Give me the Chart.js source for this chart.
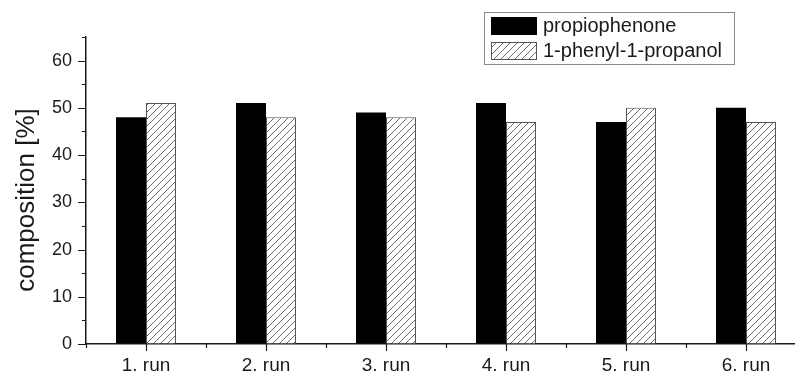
<!DOCTYPE html>
<html>
<head>
<meta charset="utf-8">
<title>composition</title>
<script src="https://cdn.jsdelivr.net/npm/chart.js@4"></script>
<style>
  html, body { margin: 0; padding: 0; background: #fff; overflow: hidden; }
  #wrap { width: 795px; height: 374px; overflow: hidden; }
  #wrap canvas { display: block; }
</style>
</head>
<body>
<div id="wrap">
  <canvas id="compChart" width="815" height="374"></canvas>
</div>
<script>
/* composition of the reaction mixture over six runs */

const runs = ['1. run', '2. run', '3. run', '4. run', '5. run', '6. run'];
const ketone = [48, 51, 49, 51, 47, 50];     // propiophenone
const alcohol = [51, 48, 48, 47, 50, 47];    // 1-phenyl-1-propanol
const seriesNames = ['propiophenone', '1-phenyl-1-propanol'];
const yMax = 65;
const yStep = 5;

const FONT = "'Liberation Sans', Arial, sans-serif";
const INK = '#1a1a1a';

// diagonal hatching for the second series
function makeHatch() {
    const size = 7;
    const c = document.createElement('canvas');
    c.width = size;
    c.height = size;
    const g = c.getContext('2d');
    g.fillStyle = '#fff';
    g.fillRect(0, 0, size, size);
    g.strokeStyle = '#6a6a6a';
    g.lineWidth = 1;
    g.beginPath();
    g.moveTo(-1, size + 1);
    g.lineTo(size + 1, -1);
    g.moveTo(-1, 1);
    g.lineTo(1, -1);
    g.moveTo(size - 1, size + 1);
    g.lineTo(size + 1, size - 1);
    g.stroke();
    return g.createPattern(c, 'repeat');
}
const hatch = makeHatch();

// outward tick marks, major and minor, on both axes
const axisTicks = {
    id: 'axisTicks',
    afterDraw(chart) {
        const ctx = chart.ctx;
        const x = chart.scales.x, y = chart.scales.y;
        ctx.save();
        ctx.strokeStyle = INK;
        ctx.lineWidth = 1.2;
        ctx.beginPath();
        for (let v = 0; v <= yMax; v += yStep) {
            const py = Math.round(y.getPixelForValue(v)) + 0.5;
            const len = v % 10 === 0 ? 8 : 4;
            ctx.moveTo(x.left - len, py);
            ctx.lineTo(x.left, py);
        }
        for (let i = 0; i < runs.length; i++) {
            const px = Math.round(x.getPixelForValue(i)) + 0.5;
            ctx.moveTo(px, y.bottom);
            ctx.lineTo(px, y.bottom + 7);
        }
        for (let i = 0; i <= runs.length; i++) {
            const px = Math.round(x.getPixelForValue(i - 0.5)) + 0.5;
            ctx.moveTo(px, y.bottom);
            ctx.lineTo(px, y.bottom + 4);
        }
        ctx.stroke();

        // axis title
        ctx.fillStyle = INK;
        ctx.font = '26px ' + FONT;
        ctx.textAlign = 'center';
        ctx.textBaseline = 'middle';
        ctx.translate(27, 200);
        ctx.rotate(-Math.PI / 2);
        ctx.fillText('composition [%]', 0, 0);
        ctx.restore();
    }
};

// boxed legend in the upper right
const boxLegend = {
    id: 'boxLegend',
    afterDraw(chart) {
        const ctx = chart.ctx;
        const bx = 484, by = 12, bw = 250, bh = 52;
        ctx.save();
        ctx.fillStyle = '#fff';
        ctx.fillRect(bx, by, bw, bh);
        ctx.strokeStyle = '#8a8a8a';
        ctx.lineWidth = 1;
        ctx.strokeRect(bx + 0.5, by + 0.5, bw, bh);
        ctx.font = '20px ' + FONT;
        ctx.textBaseline = 'middle';
        chart.data.datasets.forEach((ds, i) => {
            const sy = by + 5 + i * 25;
            ctx.fillStyle = ds.backgroundColor;
            ctx.fillRect(bx + 7, sy, 46, 18);
            ctx.strokeStyle = ds.borderColor;
            ctx.strokeRect(bx + 7.5, sy + 0.5, 45, 17);
            ctx.fillStyle = INK;
            ctx.fillText(ds.label, bx + 59, sy + 9);
        });
        ctx.restore();
    }
};

new Chart(document.getElementById('compChart').getContext('2d'), {
    type: 'bar',
    data: {
        labels: runs,
        datasets: [{
            label: seriesNames[0],
            data: ketone,
            backgroundColor: '#000',
            borderColor: '#000',
            borderWidth: 0
        }, {
            label: seriesNames[1],
            data: alcohol,
            backgroundColor: hatch,
            borderColor: '#555',
            borderWidth: 1
        }]
    },
    options: {
        responsive: false,
        animation: false,
        layout: { padding: { top: 37, right: 9, left: 0, bottom: 0 } },
        datasets: {
            bar: { categoryPercentage: 0.5, barPercentage: 1.0 }
        },
        plugins: {
            legend: { display: false },
            tooltip: { enabled: false }
        },
        scales: {
            x: {
                grid: { display: true, drawOnChartArea: false, drawTicks: false, color: 'transparent' },
                border: { display: true, color: INK, width: 1.5 },
                ticks: { color: INK, font: { family: FONT, size: 19 }, padding: 10, maxRotation: 0 },
                afterFit(scale) { scale.height = 30; }
            },
            y: {
                min: 0,
                max: yMax,
                grid: { display: true, drawOnChartArea: false, drawTicks: false, color: 'transparent' },
                border: { display: true, color: INK, width: 1.5 },
                ticks: {
                    stepSize: yStep,
                    color: INK,
                    font: { family: FONT, size: 18 },
                    padding: 14,
                    callback: v => (v % 10 === 0 ? v : '')
                },
                afterFit(scale) { scale.width = 86; }
            }
        }
    },
    plugins: [axisTicks, boxLegend]
});
</script>
</body>
</html>
